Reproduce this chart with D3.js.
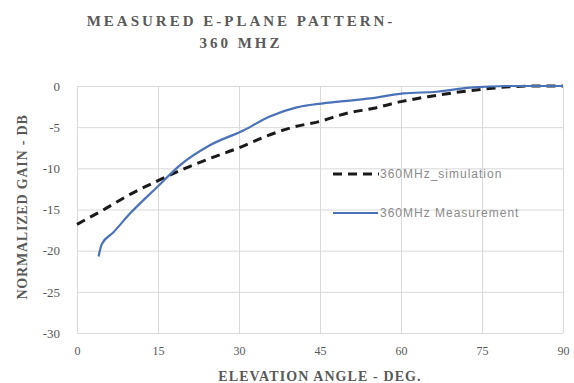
<!DOCTYPE html>
<html>
<head>
<meta charset="utf-8">
<script src="https://cdn.jsdelivr.net/npm/d3@7"></script>
<style>
  body { margin: 0; background: #fff; }
  svg { display: block; }
</style>
</head>
<body>
<svg id="chart" width="574" height="383"></svg>
<script>
// data
const simAngle = [0, 5, 10, 15, 20, 25, 30, 35, 40, 45, 50, 55, 60, 65, 70, 75, 80, 85, 90];
const simGain = [-16.8, -15.0, -13.1, -11.5, -10.0, -8.7, -7.5, -6.1, -5.0, -4.3, -3.3, -2.7, -1.9, -1.3, -0.8, -0.4, -0.1, 0, 0];
const measAngle = [4, 4.6, 6.7, 9.8, 14.8, 19.1, 24.6, 30.8, 35.7, 40.7, 45.6, 50, 54.3, 60.4, 66.6, 72.8, 80, 90];
const measGain = [-20.7, -19.2, -17.8, -15.5, -12.3, -9.6, -7.2, -5.4, -3.7, -2.6, -2.1, -1.8, -1.5, -0.9, -0.7, -0.2, 0, 0];
const xTicks = [0, 15, 30, 45, 60, 75, 90];
const yTicks = [0, -5, -10, -15, -20, -25, -30];
const seriesNames = ['360MHz_simulation', '360MHz Measurement'];

const svg = d3.select('#chart');
const serif = '"Liberation Serif", "DejaVu Serif", serif';
const sans = '"Liberation Sans", Arial, sans-serif';
const textCol = '#595959';

const plotL = 77, plotR = 563, plotT = 86, plotB = 333;
const x = d3.scaleLinear().domain([0, 90]).range([plotL, plotR]);
const y = d3.scaleLinear().domain([-30, 0]).range([plotB, plotT]);

// gridlines
svg.append('g')
	.attr('transform', 'translate(0,' + plotB + ')')
	.call(d3.axisBottom(x).tickValues(xTicks).tickSize(-(plotB - plotT)).tickFormat(''))
	.call(g => g.select('.domain').remove())
	.call(g => g.selectAll('line').attr('stroke', '#d9d9d9'));
svg.append('g')
	.attr('transform', 'translate(' + plotL + ',0)')
	.call(d3.axisLeft(y).tickValues(yTicks).tickSize(-(plotR - plotL)).tickFormat(''))
	.call(g => g.select('.domain').remove())
	.call(g => g.selectAll('line').attr('stroke', '#d9d9d9'));

// tick labels (plain hyphen like the original)
svg.append('g')
	.attr('transform', 'translate(0,' + plotB + ')')
	.call(d3.axisBottom(x).tickValues(xTicks).tickSize(0).tickPadding(13).tickFormat(d => String(d)))
	.call(g => g.select('.domain').remove())
	.call(g => g.selectAll('text').attr('fill', textCol).style('font', '12px ' + serif));
svg.append('g')
	.attr('transform', 'translate(' + plotL + ',0)')
	.call(d3.axisLeft(y).tickValues(yTicks).tickSize(0).tickPadding(17).tickFormat(d => String(d)))
	.call(g => g.select('.domain').remove())
	.call(g => g.selectAll('text').attr('fill', textCol).style('font', '13px ' + serif));

// lines
const simData = simAngle.map((a, i) => [a, simGain[i]]);
const measData = measAngle.map((a, i) => [a, measGain[i]]);
const line = d3.line().x(d => x(d[0])).y(d => y(d[1])).curve(d3.curveMonotoneX);

svg.append('path')
	.datum(simData)
	.attr('d', line)
	.attr('fill', 'none')
	.attr('stroke', '#1a1a1a')
	.attr('stroke-width', 3)
	.attr('stroke-dasharray', '9,6');

svg.append('path')
	.datum(measData)
	.attr('d', line)
	.attr('fill', 'none')
	.attr('stroke', '#4a72b8')
	.attr('stroke-width', 2.2);

// legend
const legend = svg.append('g').attr('transform', 'translate(333,0)');
legend.append('line')
	.attr('x1', 0).attr('x2', 46).attr('y1', 174).attr('y2', 174)
	.attr('stroke', '#1a1a1a').attr('stroke-width', 3).attr('stroke-dasharray', '9,6');
legend.append('line')
	.attr('x1', 0).attr('x2', 45).attr('y1', 213).attr('y2', 213)
	.attr('stroke', '#4a72b8').attr('stroke-width', 2.2);
legend.selectAll('text.leg')
	.data(seriesNames)
	.enter()
	.append('text')
	.attr('class', 'leg')
	.attr('x', 47)
	.attr('y', (d, i) => 174 + i * 39)
	.attr('dy', '0.35em')
	.attr('fill', '#8a8a8a')
	.style('font', '12px ' + sans)
	.style('letter-spacing', '1px')
	.text(d => d);

// titles
const title = svg.append('text')
	.attr('text-anchor', 'middle')
	.attr('fill', textCol)
	.style('font', 'bold 15px ' + serif)
	.style('letter-spacing', '3px');
title.append('tspan').attr('x', 241).attr('y', 26).text('MEASURED E-PLANE PATTERN-');
title.append('tspan').attr('x', 241).attr('y', 48).text('360 MHZ');

svg.append('text')
	.attr('x', 320).attr('y', 381)
	.attr('text-anchor', 'middle')
	.attr('fill', textCol)
	.style('font', 'bold 14px ' + serif)
	.style('letter-spacing', '1.1px')
	.text('ELEVATION ANGLE - DEG.');

svg.append('text')
	.attr('transform', 'translate(27,207) rotate(-90)')
	.attr('text-anchor', 'middle')
	.attr('fill', textCol)
	.style('font', 'bold 14px ' + serif)
	.style('letter-spacing', '0.8px')
	.text('NORMALIZED GAIN - DB');
</script>
</body>
</html>
